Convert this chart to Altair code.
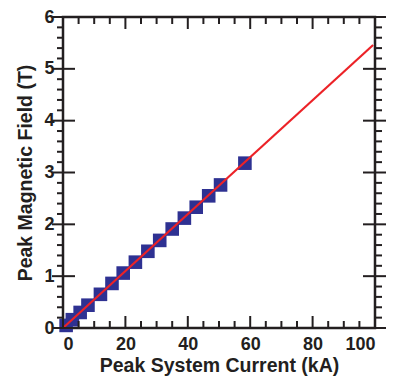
import altair as alt
import pandas as pd

# Measured data points (Peak System Current kA, Peak Magnetic Field T)
current_ka = [1.0, 3.0, 5.5, 8.0, 12.0, 15.7, 19.3, 23.2, 27.2, 31.0, 35.0, 38.9, 42.7, 46.7, 50.5, 58.3]
field_t = [0.05, 0.16, 0.30, 0.44, 0.65, 0.86, 1.06, 1.27, 1.48, 1.69, 1.91, 2.12, 2.33, 2.55, 2.76, 3.18]

# Fit line
fit_x = [0.0, 99.4]
fit_y = [0.0, 5.46]

# Tick values
x_major = [0, 20, 40, 60, 80, 100]
x_minor = [5, 10, 15, 25, 30, 35, 45, 50, 55, 65, 70, 75, 85, 90, 95]
y_major = [0, 1, 2, 3, 4, 5, 6]
y_minor = [round(i * 0.2, 1) for i in range(31) if i % 5 != 0]

W, H = 312, 311
INK = "#231F20"

xs = alt.Scale(domain=[0, 100], nice=False, zero=False)
ys = alt.Scale(domain=[0, 6], nice=False, zero=False)

pts = pd.DataFrame({"x": current_ka, "y": field_t})
fit = pd.DataFrame({"x": fit_x, "y": fit_y})

x_axis = alt.Axis(values=x_major, title="Peak System Current (kA)", ticks=False, tickSize=0,
                  domain=False, grid=False, labelPadding=7, titlePadding=3, format="d")
y_axis = alt.Axis(values=y_major, title="Peak Magnetic Field (T)", ticks=False, tickSize=0,
                  domain=False, grid=False, labelPadding=9, titlePadding=8, format="d")

def X():
    return alt.X("x:Q", scale=xs, axis=x_axis, title="Peak System Current (kA)")

def Y():
    return alt.Y("y:Q", scale=ys, axis=y_axis, title="Peak Magnetic Field (T)")

points = alt.Chart(pts).mark_square(size=185, color="#2E3192", opacity=1).encode(x=X(), y=Y())

line = alt.Chart(fit).mark_line(color="#EC2227", strokeWidth=2.2).encode(x=X(), y=Y())

def xticks(vals, length):
    d = pd.DataFrame({"x": vals})
    bottom = alt.Chart(d).mark_rule(color=INK, strokeWidth=2).encode(
        x=X(), y=alt.value(H), y2=alt.value(H - length))
    top = alt.Chart(d).mark_rule(color=INK, strokeWidth=2).encode(
        x=X(), y=alt.value(0), y2=alt.value(length))
    return [bottom, top]

def yticks(vals, l_out, l_in, r_in, r_out):
    d = pd.DataFrame({"y": vals})
    left = alt.Chart(d).mark_rule(color=INK, strokeWidth=2).encode(
        y=Y(), x=alt.value(-l_out), x2=alt.value(l_in))
    right = alt.Chart(d).mark_rule(color=INK, strokeWidth=2).encode(
        y=Y(), x=alt.value(W - r_in), x2=alt.value(W + r_out))
    return [left, right]

layers = [points, line]
layers += xticks(x_major, 12) + xticks(x_minor, 7)
layers += yticks(y_major, 11, 12, 12, 12) + yticks(y_minor, 6, 0, 0, 7)

chart = alt.layer(*layers).properties(
    width=W, height=H,
    autosize=alt.AutoSizeParams(type="none"),
    padding={"left": 55, "top": 9, "right": 11, "bottom": 50},
).configure_view(
    stroke=INK, strokeWidth=2.5
).configure_axis(
    labelFont="Liberation Sans", labelFontWeight="bold", labelFontSize=18, labelColor=INK,
    titleFont="Liberation Sans", titleFontWeight="bold", titleFontSize=19.5, titleColor=INK,
)

chart.save("out.html", embed_options={"renderer": "svg", "actions": False})
